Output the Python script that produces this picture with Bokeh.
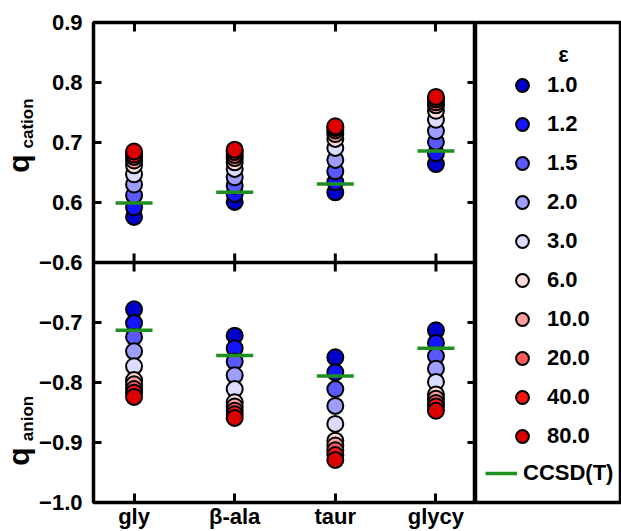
import numpy as np
from bokeh.plotting import figure
from bokeh.models import (Range1d, LinearAxis, FixedTicker, Span, Label,
                          Legend, LegendItem)
from bokeh.layouts import row
from bokeh.embed import file_html
from bokeh.resources import INLINE
from bokeh.core.properties import value

# ---------------- data ----------------
categories = ["gly", "β-ala", "taur", "glycy"]
eps_labels = ["1.0", "1.2", "1.5", "2.0", "3.0", "6.0", "10.0", "20.0", "40.0", "80.0"]
eps_colors = ["#0000CC", "#1414FF", "#5959FF", "#9E9EFF", "#DCDCFF",
              "#FFDCDC", "#FF9E9E", "#FF5959", "#FF1414", "#DD0000"]

# q(cation) per dielectric constant (ordered as eps_labels)
cation_gly = [0.576, 0.592, 0.612, 0.630, 0.647, 0.662, 0.670, 0.676, 0.680, 0.685]
cation_bala = [0.601, 0.614, 0.628, 0.642, 0.656, 0.667, 0.674, 0.679, 0.684, 0.688]
cation_taur = [0.617, 0.634, 0.652, 0.671, 0.691, 0.706, 0.714, 0.720, 0.724, 0.727]
cation_glycy = [0.664, 0.682, 0.701, 0.719, 0.738, 0.753, 0.762, 0.767, 0.772, 0.776]

# q(anion) per dielectric constant
anion_gly = [-0.678, -0.701, -0.724, -0.748, -0.773, -0.796, -0.803, -0.811, -0.817, -0.824]
anion_bala = [-0.722, -0.743, -0.765, -0.788, -0.811, -0.833, -0.840, -0.847, -0.853, -0.859]
anion_taur = [-0.758, -0.783, -0.811, -0.839, -0.869, -0.897, -0.905, -0.913, -0.921, -0.929]
anion_glycy = [-0.713, -0.734, -0.756, -0.777, -0.799, -0.820, -0.827, -0.834, -0.840, -0.847]

# CCSD(T) reference values per category
ccsd_cation = [0.599, 0.617, 0.631, 0.686]
ccsd_anion = [-0.713, -0.755, -0.789, -0.743]

cation_ticks = [0.6, 0.7, 0.8, 0.9]
anion_ticks = [-1.0, -0.9, -0.8, -0.7, -0.6]
cation_lim = (0.5, 0.9)
anion_lim = (-1.0, -0.6)

# y-axis titles: main letter and subscript
ytitle_main = ["q", "q"]
ytitle_sub = ["cation", "anion"]

# ---------------- layout constants ----------------
FONT = "Liberation Sans"
GREEN = "#1f8f1f"
LW = 3.5
H = 531
TOP, BOTTOM = 22, 29          # borders above / below the plotting frame
FRAME_H = H - TOP - BOTTOM

xs = list(range(1, len(categories) + 1))
cation_sets = [cation_gly, cation_bala, cation_taur, cation_glycy]
anion_sets = [anion_gly, anion_bala, anion_taur, anion_glycy]

cat_span = cation_lim[1] - cation_lim[0]
an_span = anion_lim[1] - anion_lim[0]
y_main = Range1d(cation_lim[0] - cat_span, cation_lim[1])      # cation occupies upper half
y_anion = Range1d(anion_lim[0], anion_lim[1] + an_span)         # anion occupies lower half

# ---------------- y-title strip (frame-pixel coordinates, y up) ----------------
W_STRIP = 36
tf = figure(width=W_STRIP, height=H, x_range=Range1d(0, W_STRIP), y_range=Range1d(0, FRAME_H),
            x_axis_type=None, y_axis_type=None, toolbar_location=None,
            output_backend="svg", min_border_left=0, min_border_right=0,
            min_border_top=TOP, min_border_bottom=BOTTOM)
tf.outline_line_color = None
tf.background_fill_color = "white"
tf.border_fill_color = "white"

# centres of the rotated texts, measured upward from the frame bottom
tf.text(x=[17.5, 17.5], y=[339, 46], text=ytitle_main, angle=np.pi / 2,
        text_align="center", text_baseline="middle", text_font=value(FONT),
        text_font_style="bold", text_font_size=value("30px"), text_color="black")
tf.text(x=[26.5, 26.5], y=[379, 84], text=ytitle_sub, angle=np.pi / 2,
        text_align="center", text_baseline="middle", text_font=value(FONT),
        text_font_style="bold", text_font_size=value("17px"), text_color="black")

# ---------------- main chart ----------------
p = figure(width=475 - W_STRIP, height=H, x_range=Range1d(0.597, 4.393), y_range=y_main,
           x_axis_type=None, y_axis_type=None, toolbar_location=None,
           output_backend="svg", min_border_left=89 - W_STRIP, min_border_right=0,
           min_border_top=TOP, min_border_bottom=BOTTOM)
p.extra_y_ranges = {"anion": y_anion}
p.outline_line_color = "black"
p.outline_line_width = LW
p.outline_line_alpha = 1.0
p.background_fill_color = "white"
p.border_fill_color = "white"

# y tick positions on the main (upper) range: anion ticks mapped onto lower half
ytick_pos = []
ytick_lab = {}
for t in anion_ticks:
    pos = y_main.start + (t - anion_lim[0]) * cat_span / an_span
    ytick_pos.append(pos)
    ytick_lab[pos] = "\u2212" + f"{abs(t):.1f}"
for t in cation_ticks:
    ytick_pos.append(t)
    ytick_lab[t] = f"{t:.1f}"


def style_axis(ax, tick_in=8, show_labels=True):
    ax.major_tick_in = tick_in
    ax.major_tick_out = 0
    ax.major_tick_line_width = 3
    ax.major_tick_line_color = "black"
    ax.minor_tick_line_color = None
    ax.axis_line_color = None
    ax.major_label_text_font = FONT
    ax.major_label_text_font_style = "bold"
    if show_labels:
        ax.major_label_text_font_size = "22px"
        ax.major_label_text_color = "black"
    else:
        ax.major_label_text_font_size = "0px"
        ax.major_label_text_color = None
        ax.major_label_standoff = 0


left = LinearAxis(ticker=FixedTicker(ticks=ytick_pos, minor_ticks=[]),
                  major_label_overrides=ytick_lab, major_label_standoff=11)
style_axis(left)
p.add_layout(left, "left")

right = LinearAxis(ticker=FixedTicker(ticks=ytick_pos, minor_ticks=[]))
style_axis(right, show_labels=False)
p.add_layout(right, "right")

above = LinearAxis(ticker=FixedTicker(ticks=xs, minor_ticks=[]))
style_axis(above, tick_in=9, show_labels=False)
p.add_layout(above, "above")

below = LinearAxis(ticker=FixedTicker(ticks=xs, minor_ticks=[]),
                   major_label_overrides={x: c for x, c in zip(xs, categories)},
                   major_label_standoff=1)
style_axis(below, tick_in=9)
p.add_layout(below, "below")

# divider between panels and its inward ticks
p.add_layout(Span(location=cation_lim[0], dimension="width", line_color="black", line_width=LW))
p.scatter(xs, [cation_lim[0]] * len(xs), marker="dash", angle=np.pi / 2, size=18,
          line_color="black", line_width=3)

# data markers
for i, (lab, col) in enumerate(zip(eps_labels, eps_colors)):
    p.scatter(xs, [s[i] for s in cation_sets], size=16, fill_color=col,
              line_color="black", line_width=2)
    p.scatter(xs, [s[i] for s in anion_sets], size=16, fill_color=col,
              line_color="black", line_width=2, y_range_name="anion")

p.scatter(xs, ccsd_cation, marker="dash", size=37, line_color=GREEN, line_width=LW)
p.scatter(xs, ccsd_anion, marker="dash", size=37, line_color=GREEN, line_width=LW,
          y_range_name="anion")

# ---------------- legend panel ----------------
leg = figure(width=146, height=H, x_range=Range1d(0, 1), y_range=Range1d(0, 1),
             x_axis_type=None, y_axis_type=None, toolbar_location=None,
             output_backend="svg", min_border_left=0, min_border_right=0,
             min_border_top=TOP, min_border_bottom=BOTTOM)
leg.outline_line_color = "black"
leg.outline_line_width = LW
leg.outline_line_alpha = 1.0
leg.background_fill_color = "white"
leg.border_fill_color = "white"

# legend-only renderers (hidden in the panel, shown as legend glyphs)
items = []
for i, (lab, col) in enumerate(zip(eps_labels, eps_colors)):
    r = leg.scatter(x=xs, y=[s[i] for s in cation_sets], size=13, fill_color=col,
                    line_color="black", line_width=2, visible=False)
    items.append(LegendItem(label=value(lab), renderers=[r]))
rl = leg.line(x=xs, y=ccsd_cation, line_color=GREEN, line_width=LW, visible=False)


def make_legend(its, loc, standoff):
    lg = Legend(items=its, location=loc, glyph_width=32, glyph_height=32, label_height=32,
                spacing=7, padding=0, margin=0, label_standoff=standoff,
                border_line_color=None, background_fill_alpha=0,
                inactive_fill_alpha=0,
                label_text_font=FONT, label_text_font_style="bold",
                label_text_font_size="22px", label_text_color="black",
                label_text_baseline="middle")
    leg.add_layout(lg)


make_legend(items, (31, 50), 9)
make_legend([LegendItem(label=value("CCSD(T)"), renderers=[rl])], (10, 13), 6)

leg.add_layout(Label(x=88, y=448, x_units="screen", y_units="screen", text="ε",
                     text_align="center", text_baseline="alphabetic", text_font=FONT,
                     text_font_style="bold", text_font_size="22px", text_color="black"))

layout = row(tf, p, leg)
open("out.html", "w").write(file_html(layout, INLINE))
